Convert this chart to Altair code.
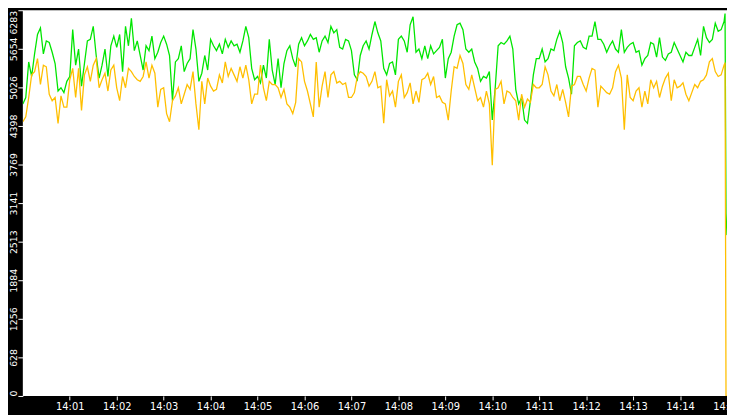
import altair as alt
import pandas as pd

step_seconds = 3.75

green_vals = [
    4757, 4862, 5441, 5204, 5572, 5888, 5994, 5572, 5783, 5757, 5599, 5415, 4967, 5020, 4941, 5125, 5204, 5967, 5388, 5651,
    5046, 5415, 5783, 5809, 6020, 5546, 5178, 5388, 5651, 5204, 5704, 5862, 5678, 5888, 5283, 6020, 5704, 6151, 5625, 5783,
    5546, 5309, 5704, 5625, 5862, 5494, 5599, 5757, 5862, 5730, 5546, 4809, 5441, 5494, 5704, 5283, 5415, 5494, 5967, 5651,
    5125, 5257, 5546, 5309, 5809, 5704, 5625, 5730, 5572, 5809, 5678, 5783, 5704, 5730, 5599, 5783, 6020, 5836, 5336, 5151,
    5204, 5099, 5388, 5178, 5809, 5309, 5073, 5494, 5020, 5415, 5625, 5704, 5494, 5362, 5730, 5836, 5704, 5783, 5888, 5809,
    5836, 5599, 5783, 5862, 5757, 6020, 5915, 5967, 5678, 5651, 5809, 5783, 5625, 5230, 5151, 5546, 5704, 5783, 5651, 5888,
    6099, 5915, 5783, 5336, 5230, 5415, 5441, 5230, 5809, 5862, 5783, 5599, 6046, 6178, 5599, 5651, 5494, 5704, 5494, 5704,
    5572, 5625, 5678, 5809, 5178, 5494, 5599, 5862, 6046, 6072, 5967, 5651, 5599, 5651, 5441, 5336, 5125, 5204, 5178, 5283,
    4494, 5020, 5704, 5757, 5730, 5783, 5862, 5651, 4994, 4757, 4862, 4494, 4441, 4809, 5230, 5494, 5494, 5651, 5441, 5494,
    5651, 5625, 5809, 5941, 5757, 5362, 5178, 4915, 5704, 5757, 5783, 5678, 5651, 5862, 5862, 6099, 5809, 5809, 5730, 5599,
    5704, 5783, 5651, 5599, 5967, 5599, 5678, 5730, 5757, 5599, 5625, 5388, 5494, 5546, 5757, 5730, 5520, 5836, 5520, 5467,
    5572, 5599, 5757, 5651, 5546, 5441, 5599, 5546, 5546, 5678, 5809, 5546, 6020, 5836, 5757, 5809, 6072, 5941, 5967, 6099,
]

gold_vals = [
    4467, 4546, 4862, 5230, 5283, 5494, 5073, 5388, 5362, 4915, 4809, 4862, 4441, 4888, 4704, 4704, 5151, 5336, 4862, 5336,
    4651, 5230, 5362, 5125, 5388, 5494, 5020, 5151, 5257, 4967, 5309, 5388, 5020, 4809, 5204, 5020, 5336, 5283, 5204, 5151,
    5125, 5204, 5441, 5178, 5388, 5257, 4704, 4994, 5020, 4599, 4467, 4809, 4888, 5020, 4757, 4915, 5073, 4994, 5283, 4757,
    4336, 5125, 4757, 5178, 5046, 4967, 4994, 5230, 5099, 5441, 5204, 5336, 5230, 5125, 5362, 5178, 5388, 5151, 4757, 4915,
    4915, 5388, 5020, 4809, 5125, 5073, 5073, 5020, 4862, 4994, 4757, 4704, 4599, 4783, 5494, 5441, 5125, 4967, 4757, 4546,
    5441, 4704, 5046, 5283, 4862, 5230, 5283, 5099, 5125, 5073, 5099, 4862, 4862, 4941, 5204, 5283, 5257, 5204, 5046, 5125,
    5283, 5020, 5046, 4441, 5151, 4888, 4967, 4704, 5125, 5230, 4862, 4941, 5099, 4757, 4967, 4783, 5151, 5178, 5257, 5073,
    5204, 4862, 4888, 4783, 4757, 4494, 4967, 5362, 5336, 5546, 5415, 5073, 4994, 5230, 5020, 4809, 4862, 4704, 4967, 4757,
    3757, 4994, 5020, 5125, 4757, 4967, 4941, 4862, 4809, 4494, 4915, 4704, 4836, 4783, 5073, 5020, 5020, 5073, 5362, 5230,
    4967, 4888, 5073, 4809, 4994, 4783, 4546, 5046, 5073, 5204, 5204, 5073, 4967, 5178, 5336, 5309, 4704, 5046, 4994, 4941,
    4915, 5020, 5283, 5388, 5178, 4336, 5230, 4862, 4809, 4967, 5020, 4704, 4967, 4757, 5151, 5020, 5125, 4862, 5046, 5178,
    5257, 4809, 5151, 5020, 5046, 5099, 4915, 4809, 4941, 5073, 5020, 5125, 5151, 5230, 5441, 5494, 5283, 5204, 5230, 5388,
]

# last few seconds: both series collapse at 14:15
end_times = [897.5, 898.75, 900.0]
green_end = [6230, 2970, 2620]
gold_end = [5430, 0, 0]

y_ticks = [0, 628, 1256, 1884, 2513, 3141, 3769, 4398, 5026, 5654, 6283]
x_tick_seconds = [60, 120, 180, 240, 300, 360, 420, 480, 540, 600, 660, 720, 780, 840, 900]
x_tick_labels = ["14:01", "14:02", "14:03", "14:04", "14:05", "14:06", "14:07", "14:08",
                 "14:09", "14:10", "14:11", "14:12", "14:13", "14:14", "14:15"]

times = [i * step_seconds for i in range(len(green_vals))] + end_times
df = pd.DataFrame({
    "t": times,
    "green": green_vals + green_end,
    "gold": gold_vals + gold_end,
})

label_list = "[" + ",".join("'" + s + "'" for s in x_tick_labels) + "]"

x_axis = alt.Axis(
    values=x_tick_seconds,
    labelExpr=label_list + "[round(datum.value / 60) - 1]",
    title=None, grid=False, domain=False,
    tickColor="white", tickSize=4, tickWidth=1,
    labelColor="white", labelFont="DejaVu Sans", labelFontSize=10,
    labelPadding=2, labelFlush=False, labelOverlap=False,
)

y_axis = alt.Axis(
    values=y_ticks, format="d",
    title=None, grid=False, domain=False,
    tickColor="white", tickSize=5, tickWidth=1,
    labelColor="white", labelFont="DejaVu Sans", labelFontSize=9.5,
    labelAngle=270, labelPadding=1, labelBaseline="alphabetic",
    labelAlign={"condition": [
                    {"test": "datum.value >= 6283", "value": "right"},
                    {"test": "datum.value <= 0", "value": "left"},
                ],
                "value": "center"},
    labelFlush=False, labelOverlap=False,
)

x_scale = alt.Scale(domain=[0, 900], nice=False, zero=False)
y_scale = alt.Scale(domain=[0, 6283], nice=False, zero=True)

green_line = alt.Chart(df).mark_line(
    color="#00e600", strokeWidth=1.3, clip=True
).encode(
    x=alt.X("t:Q", scale=x_scale, axis=x_axis),
    y=alt.Y("green:Q", scale=y_scale, axis=y_axis),
)

gold_line = alt.Chart(df).mark_line(
    color="#ffbf00", strokeWidth=1.3, clip=True
).encode(
    x=alt.X("t:Q", scale=x_scale, axis=x_axis),
    y=alt.Y("gold:Q", scale=y_scale, axis=y_axis),
)

chart = alt.layer(green_line, gold_line).properties(
    width=712,
    height=390,
    autosize=alt.AutoSizeParams(type="none"),
    padding={"left": 15, "top": 0, "right": 0, "bottom": 17},
    background="black",
).configure_view(fill="white", strokeWidth=0).configure_axis(labelOverlap=False)

chart.save("out.html", embed_options={"renderer": "svg", "actions": False})
